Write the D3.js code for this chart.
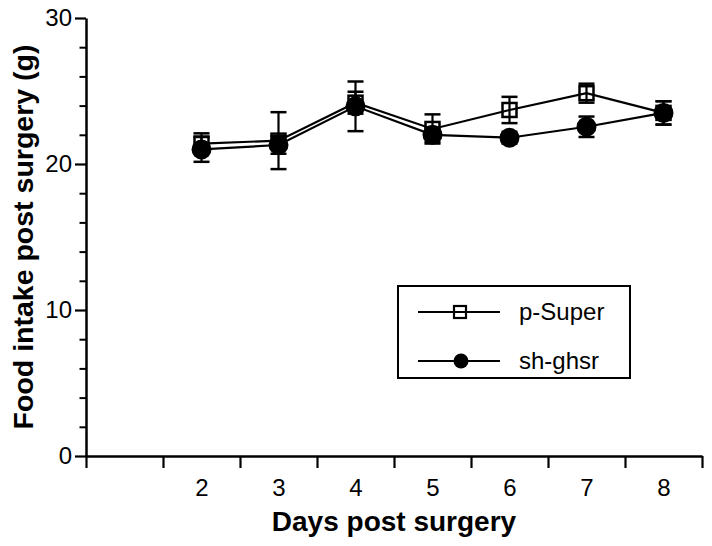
<!DOCTYPE html>
<html>
<head>
<meta charset="utf-8">
<script src="https://cdn.jsdelivr.net/npm/d3@7"></script>
<style>
  html, body { margin: 0; padding: 0; background: #fff; }
  svg { display: block; font-family: "Liberation Sans", Arial, Helvetica, sans-serif; }
</style>
</head>
<body>
<svg id="chart" width="712" height="546"></svg>
<script>
// ---- data ----
const days = [2, 3, 4, 5, 6, 7, 8];
const xTickLabels = ["2", "3", "4", "5", "6", "7", "8"];
const xBoundaryTicks = [0.5, 1.5, 2.5, 3.5, 4.5, 5.5, 6.5, 7.5, 8.5];
const yMajorTicks = [0, 10, 20, 30];
const yMinorTicks = [2, 4, 6, 8, 12, 14, 16, 18, 22, 24, 26, 28];
const seriesNames = ["p-Super", "sh-ghsr"];
const pSuper = [21.4, 21.6, 24.2, 22.4, 23.7, 24.85, 23.5];
const pSuperErr = [0.7, 1.95, 0.75, 1.0, 0.9, 0.65, 0.8];
const shGhsr = [21.0, 21.3, 23.95, 22.0, 21.8, 22.55, 23.5];
const shGhsrErr = [0.85, 0.6, 1.7, 0.5, 0.4, 0.7, 0.8];
const xTitle = "Days post surgery";
const yTitle = "Food intake post surgery (g)";

// ---- layout ----
const svg = d3.select("#chart");
const x = d3.scaleLinear().domain([0.5, 8.5]).range([86, 702]);
const y = d3.scaleLinear().domain([0, 30]).range([456, 18]);

// x axis (boundary ticks)
const gx = svg.append("g").attr("transform", `translate(0,${y(0)})`)
  .call(d3.axisBottom(x).tickValues(xBoundaryTicks).tickFormat("").tickSize(12).tickSizeOuter(0));
gx.select(".domain").attr("stroke", "#000").attr("stroke-width", 2.5);
gx.selectAll(".tick line").attr("stroke", "#000").attr("stroke-width", 2.2);

// x labels
const gxl = svg.append("g").attr("transform", `translate(0,${y(0)})`)
  .call(d3.axisBottom(x).tickValues(days).tickFormat((d, i) => xTickLabels[i]).tickSize(0).tickPadding(23));
gxl.select(".domain").remove();
gxl.selectAll("text").attr("font-size", 24).attr("fill", "#000")
  .attr("font-family", "Liberation Sans, Arial, sans-serif");

// y axis
const gy = svg.append("g").attr("transform", `translate(${x(0.5)},0)`)
  .call(d3.axisLeft(y).tickValues(yMajorTicks).tickFormat(d3.format("d")).tickSize(11).tickPadding(3).tickSizeOuter(0));
gy.select(".domain").attr("stroke", "#000").attr("stroke-width", 2.5);
gy.selectAll(".tick line").attr("stroke", "#000").attr("stroke-width", 2.2);
gy.selectAll("text").attr("font-size", 24).attr("fill", "#000")
  .attr("font-family", "Liberation Sans, Arial, sans-serif");

const gym = svg.append("g").attr("transform", `translate(${x(0.5)},0)`)
  .call(d3.axisLeft(y).tickValues(yMinorTicks).tickFormat("").tickSize(6.5).tickSizeOuter(0));
gym.select(".domain").remove();
gym.selectAll(".tick line").attr("stroke", "#000").attr("stroke-width", 2);

// titles
svg.append("text")
  .attr("x", (x(0.5) + x(8.5)) / 2).attr("y", 531)
  .attr("text-anchor", "middle").attr("font-size", 28).attr("font-weight", "bold")
  .text(xTitle);
svg.append("text")
  .attr("transform", `translate(33,${(y(0) + y(30)) / 2}) rotate(-90)`)
  .attr("text-anchor", "middle").attr("font-size", 28.5).attr("font-weight", "bold")
  .text(yTitle);

// ---- series ----
const line = d3.line().x((d, i) => x(days[i])).y(d => y(d));
const capW = 8;

function drawSeries(vals, errs, marker) {
  const g = svg.append("g");
  g.append("path").datum(vals).attr("d", line)
    .attr("fill", "none").attr("stroke", "#000").attr("stroke-width", 2.2);
  const eb = g.selectAll(".eb").data(vals).enter().append("g");
  eb.append("line")
    .attr("x1", (d, i) => x(days[i])).attr("x2", (d, i) => x(days[i]))
    .attr("y1", (d, i) => y(d + errs[i])).attr("y2", (d, i) => y(d - errs[i]))
    .attr("stroke", "#000").attr("stroke-width", 2.2);
  [1, -1].forEach(s => {
    eb.append("line")
      .attr("x1", (d, i) => x(days[i]) - capW).attr("x2", (d, i) => x(days[i]) + capW)
      .attr("y1", (d, i) => y(d + s * errs[i])).attr("y2", (d, i) => y(d + s * errs[i]))
      .attr("stroke", "#000").attr("stroke-width", 2.5);
  });
  if (marker === "square") {
    g.selectAll(".m").data(vals).enter().append("rect")
      .attr("x", (d, i) => x(days[i]) - 7).attr("y", d => y(d) - 7)
      .attr("width", 14).attr("height", 14)
      .attr("fill", "none").attr("stroke", "#000").attr("stroke-width", 2.5);
  } else {
    g.selectAll(".m").data(vals).enter().append("circle")
      .attr("cx", (d, i) => x(days[i])).attr("cy", d => y(d)).attr("r", 10)
      .attr("fill", "#000");
  }
}
drawSeries(pSuper, pSuperErr, "square");
drawSeries(shGhsr, shGhsrErr, "circle");

// ---- legend ----
const lg = svg.append("g");
lg.append("rect").attr("x", 398).attr("y", 286).attr("width", 232).attr("height", 92)
  .attr("fill", "none").attr("stroke", "#000").attr("stroke-width", 2);
const legendRows = [312, 361];
seriesNames.forEach((name, i) => {
  const ly = legendRows[i];
  lg.append("line").attr("x1", 418).attr("x2", 500).attr("y1", ly).attr("y2", ly)
    .attr("stroke", "#000").attr("stroke-width", 2);
  if (i === 0) {
    lg.append("rect").attr("x", 454).attr("y", ly - 6).attr("width", 12).attr("height", 12)
      .attr("fill", "none").attr("stroke", "#000").attr("stroke-width", 2.2);
  } else {
    lg.append("circle").attr("cx", 461).attr("cy", ly).attr("r", 7.5).attr("fill", "#000");
  }
  lg.append("text").attr("x", 519).attr("y", ly + 8).attr("font-size", 24).text(name);
});
</script>
</body>
</html>
